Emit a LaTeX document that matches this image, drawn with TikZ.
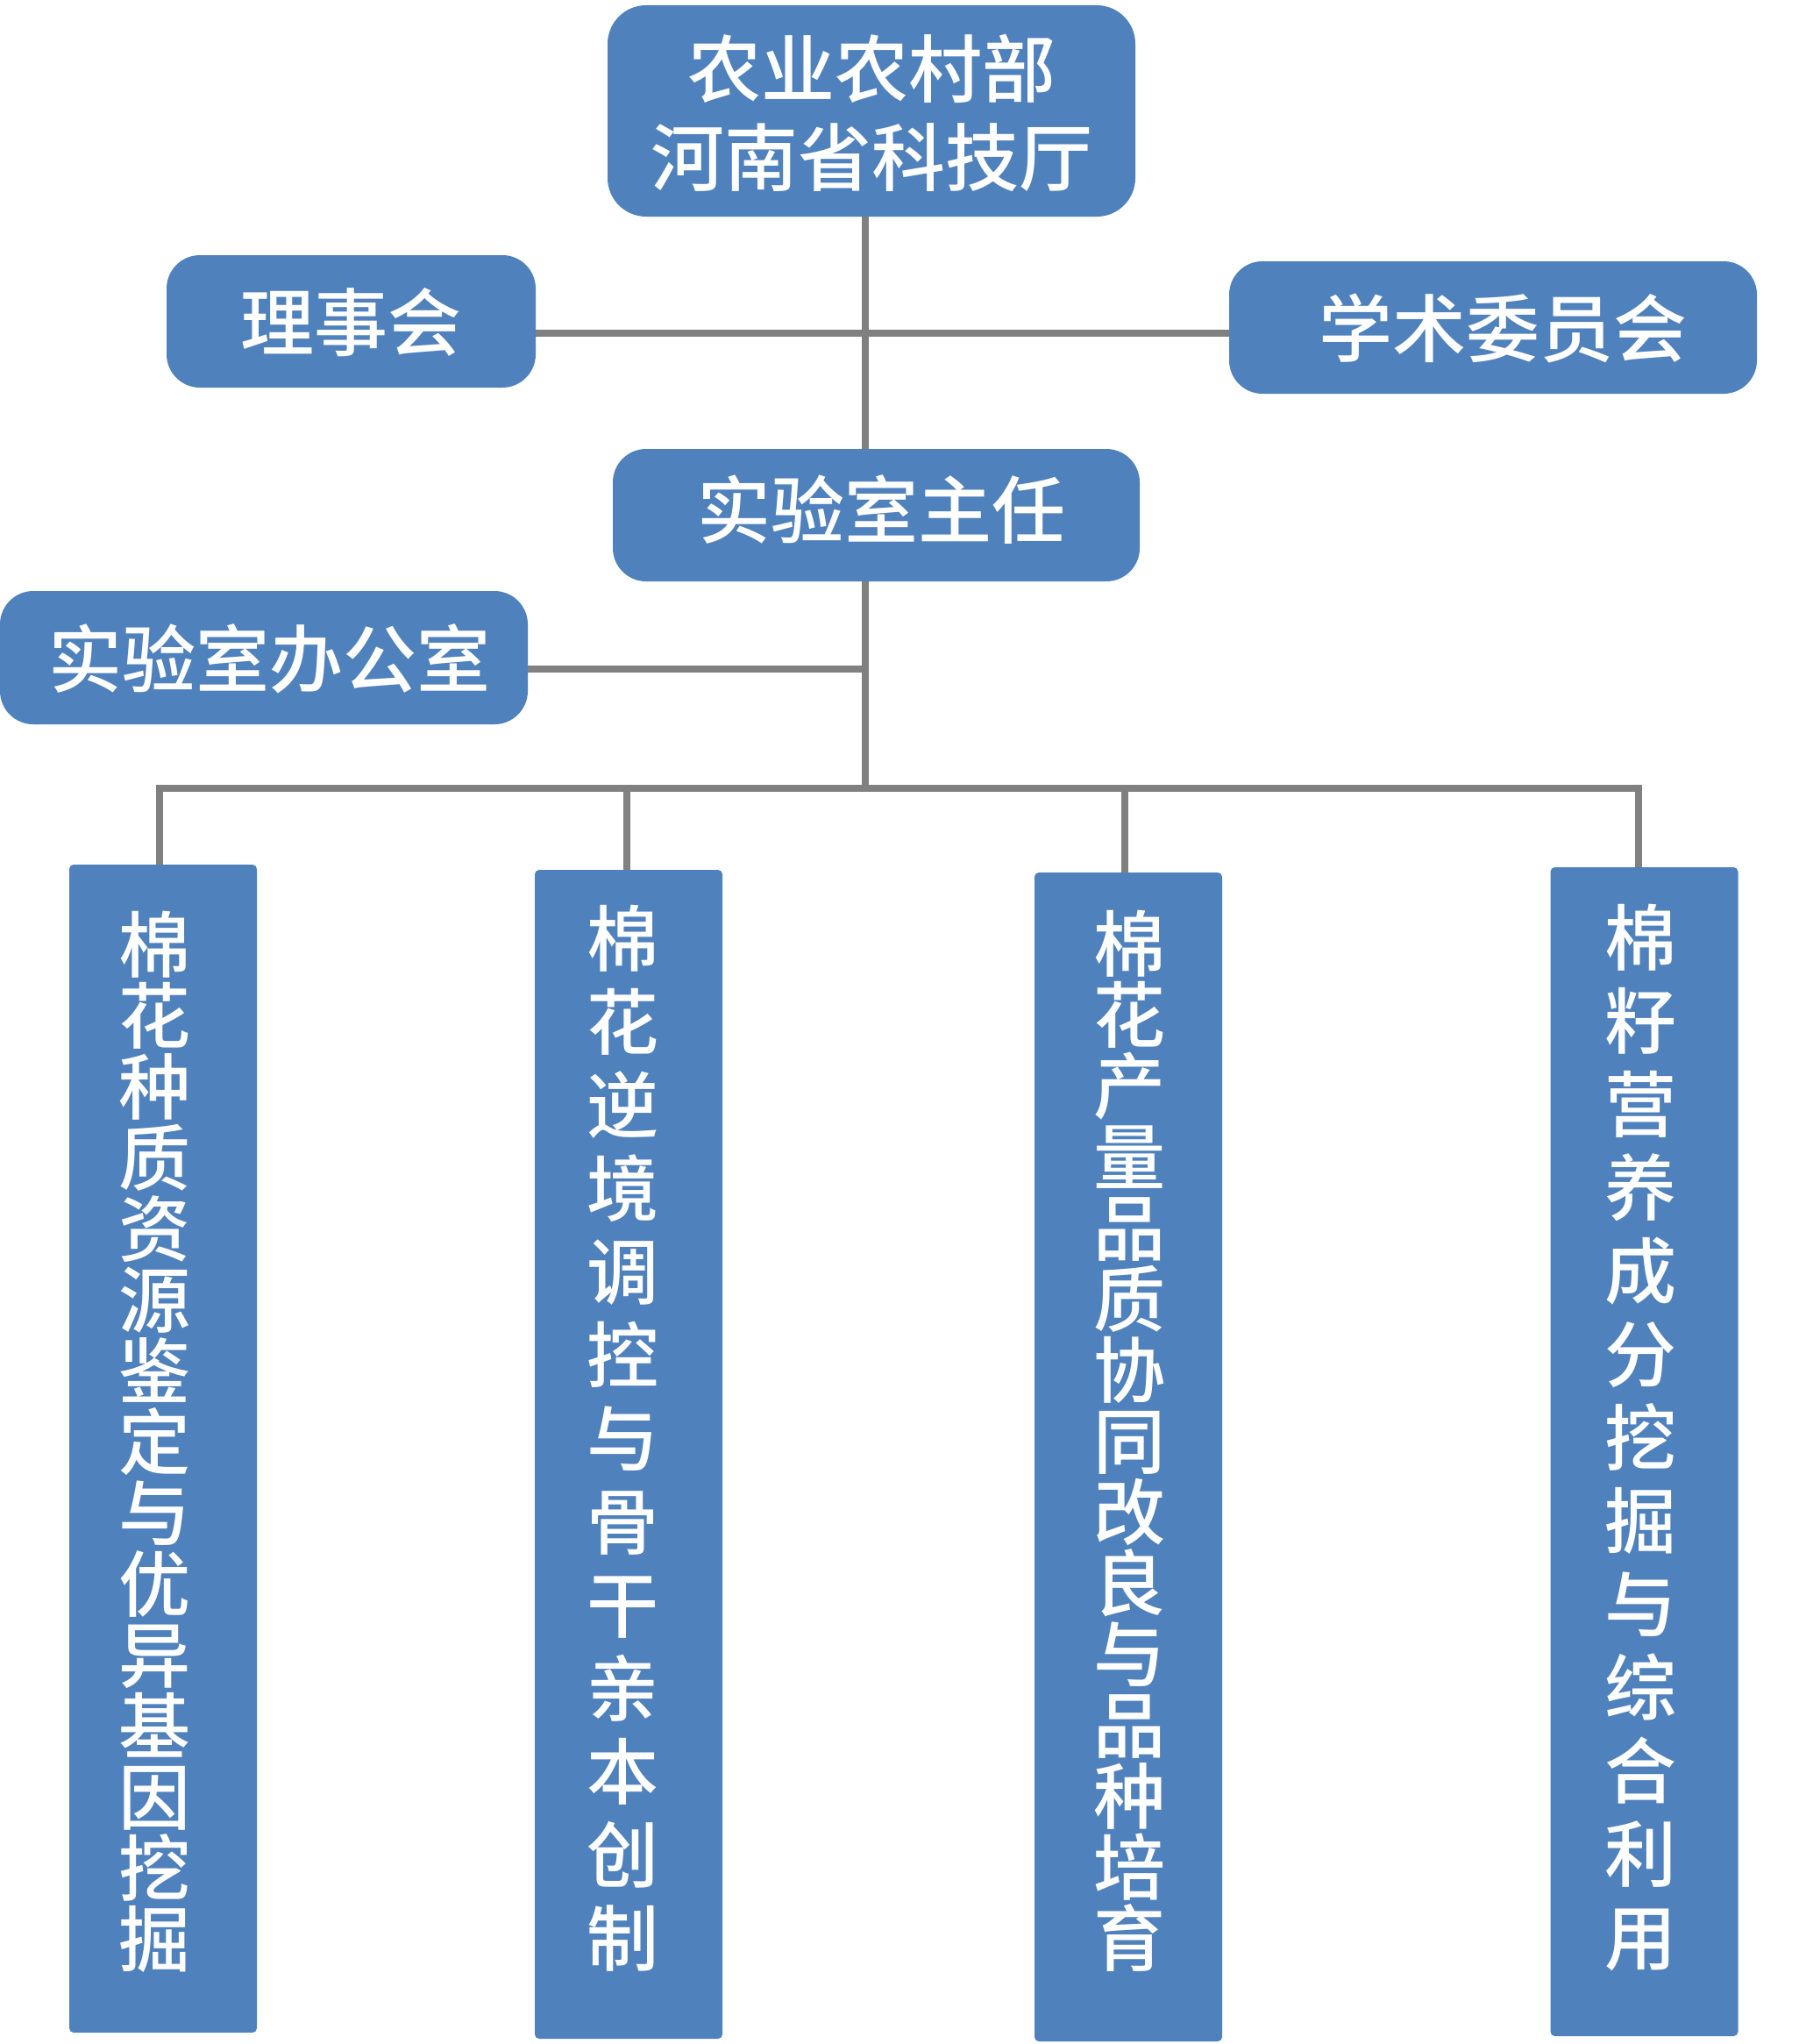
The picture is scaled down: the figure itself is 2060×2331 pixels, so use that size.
\documentclass[tikz,border=0pt]{standalone}
\usepackage{fontspec}
\newfontfamily\cjk{Noto Sans CJK SC Medium}
\definecolor{boxblue}{RGB}{79,129,189}
\definecolor{linegray}{RGB}{128,128,128}
\begin{document}
\begin{tikzpicture}[x=1pt,y=-1pt,
  box/.style={fill=boxblue, draw=none, rounded corners=38pt, inner sep=0pt},
  vbox/.style={fill=boxblue, draw=none, rounded corners=5pt, inner sep=0pt, minimum width=214pt, minimum height=1333pt},
  htext/.style={text=white, font=\cjk\fontsize{84}{101}\selectfont, inner sep=0pt, align=center},
  vtexta/.style={text=white, font=\cjk\fontsize{82}{81}\selectfont, inner sep=0pt, align=center},
  vtextb/.style={text=white, font=\cjk\fontsize{82}{95}\selectfont, inner sep=0pt, align=center},
  link/.style={draw=linegray, line width=8.5pt}
]
\useasboundingbox (0,0) rectangle (2060,2331);

% boxes
\node[box, minimum width=602pt, minimum height=241pt, rounded corners=44pt] (top) at (994,126.5) {};
\node[box, minimum width=421pt, minimum height=151pt] (board) at (400.5,366.5) {};
\node[box, minimum width=602pt, minimum height=151pt] (acad) at (1703,373.5) {};
\node[box, minimum width=601pt, minimum height=151pt] (dir) at (999.5,587.5) {};
\node[box, minimum width=602pt, minimum height=152pt] (office) at (301,750) {};
\node[vbox, minimum height=1332pt] (b1) at (186,1652) {};
\node[vbox] (b2) at (717,1658.5) {};
\node[vbox] (b3) at (1287,1661.5) {};
\node[vbox] (b4) at (1875.5,1655.5) {};

% texts
\node[htext] (ttop) at (994,129) {农业农村部\\河南省科技厅};
\node[htext] (tboard) at (400,368) {理事会};
\node[htext] (tacad) at (1714,374) {学术委员会};
\node[htext] (tdir) at (1005,581.5) {实验室主任};
\node[htext] (toff) at (307,751.5) {实验室办公室};
\node[vtexta] (t1) at (176,1644.5) {棉\\花\\种\\质\\资\\源\\鉴\\定\\与\\优\\异\\基\\因\\挖\\掘};
\node[vtextb] (t2) at (710,1640.5) {棉\\花\\逆\\境\\调\\控\\与\\骨\\干\\亲\\本\\创\\制};
\node[vtexta] (t3) at (1288,1643) {棉\\花\\产\\量\\品\\质\\协\\同\\改\\良\\与\\品\\种\\培\\育};
\node[vtextb] (t4) at (1871,1639.5) {棉\\籽\\营\\养\\成\\分\\挖\\掘\\与\\综\\合\\利\\用};

% connectors
\coordinate (sx) at (987,0);
\coordinate (j1) at (987,380);
\coordinate (j2) at (987,763);
\coordinate (bus) at (987,899);
\coordinate (d1) at (182,899);
\coordinate (d2) at (715,899);
\coordinate (d3) at (1283,899);
\coordinate (d4) at (1869,899);
\draw[link] (top.south -| sx) -- (dir.north -| sx);
\draw[link] (board.east |- j1) -- (acad.west |- j1);
\draw[link] (dir.south -| sx) -- (bus);
\draw[link] (office.east |- j2) -- (j2);
\draw[link] (b1.north -| d1) -- (d1) -- (d4) -- (b4.north -| d4);
\draw[link] (d2) -- (b2.north -| d2);
\draw[link] (d3) -- (b3.north -| d3);
\end{tikzpicture}
\end{document}
